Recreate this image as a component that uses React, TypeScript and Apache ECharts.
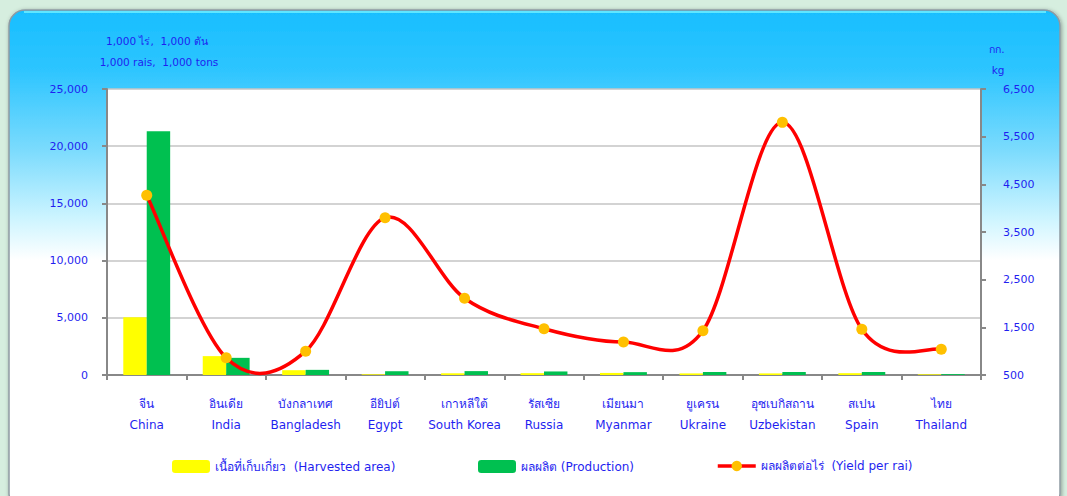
import React, { useEffect, useRef } from "react";
import * as echarts from "echarts";

const thaiNames = ["จีน", "อินเดีย", "บังกลาเทศ", "อียิปต์", "เกาหลีใต้", "รัสเซีย", "เมียนมา", "ยูเครน", "อุซเบกิสถาน", "สเปน", "ไทย"];
const engNames = ["China", "India", "Bangladesh", "Egypt", "South Korea", "Russia", "Myanmar", "Ukraine", "Uzbekistan", "Spain", "Thailand"];
const harvestedArea = [5050, 1650, 420, 60, 150, 160, 180, 140, 140, 160, 60];
const production = [21300, 1500, 450, 330, 340, 310, 250, 260, 260, 260, 75];
const yieldPerRai = [4270, 860, 1000, 3800, 2110, 1470, 1190, 1430, 5800, 1460, 1040];

const seriesNames = [
  "เนื้อที่เก็บเกี่ยว  (Harvested area)",
  "ผลผลิต (Production)",
  "ผลผลิตต่อไร่  (Yield per rai)",
];
const leftTicks = { min: 0, max: 25000, interval: 5000 };
const rightTicks = { min: 500, max: 6500, interval: 1000 };

const FONT = "'DejaVu Sans', sans-serif";
const BLUE = "#1F1FF0";
const RED = "#FF0000";
const ORANGE = "#FFC000";

export default function App() {
  const ref = useRef<HTMLDivElement>(null);
  useEffect(() => {
    if (!ref.current) return;
    const chart = echarts.init(ref.current, null, { renderer: "svg" });
    const categories = thaiNames.map((t, i) => t + "\n" + engNames[i]);
    const fmt = (v: number) => v.toLocaleString("en-US");

    // Excel-like smoothed curve (Catmull-Rom as cubic Bezier) through the data points,
    // positioned with the chart's own scales via api.coord.
    const renderCurve = (params: any, api: any) => {
      if (params.dataIndex !== 0) return null;
      const pts = yieldPerRai.map((v, i) => api.coord([i, v]));
      const n = pts.length;
      let d = `M ${pts[0][0]} ${pts[0][1]}`;
      for (let i = 0; i < n - 1; i++) {
        const p0 = pts[Math.max(0, i - 1)];
        const p1 = pts[i];
        const p2 = pts[i + 1];
        const p3 = pts[Math.min(n - 1, i + 2)];
        const c1x = p1[0] + (p2[0] - p0[0]) / 6;
        const c1y = p1[1] + (p2[1] - p0[1]) / 6;
        const c2x = p2[0] - (p3[0] - p1[0]) / 6;
        const c2y = p2[1] - (p3[1] - p1[1]) / 6;
        d += ` C ${c1x} ${c1y} ${c2x} ${c2y} ${p2[0]} ${p2[1]}`;
      }
      return {
        type: "path",
        shape: { pathData: d },
        style: { stroke: RED, lineWidth: 3.5, fill: "none" },
      };
    };

    chart.setOption({
      animation: false,
      backgroundColor: "#D6EEDF",
      textStyle: { fontFamily: FONT },
      graphic: [
        {
          type: "rect",
          z: -10,
          shape: { x: 9, y: 10, width: 1051, height: 500, r: 16 },
          style: {
            fill: {
              type: "linear", x: 0, y: 0, x2: 0, y2: 1,
              colorStops: [
                { offset: 0, color: "#18BEFF" },
                { offset: 0.12, color: "#2DC5FF" },
                { offset: 0.28, color: "#7BDBFD" },
                { offset: 0.42, color: "#CFF5FF" },
                { offset: 0.5, color: "#FFFFFF" },
                { offset: 1, color: "#FFFFFF" },
              ],
            },
            stroke: "#8E9AA3",
            lineWidth: 1.5,
            shadowBlur: 4,
            shadowColor: "rgba(0,0,0,0.35)",
            shadowOffsetX: 1,
            shadowOffsetY: 1,
          },
        },
        {
          type: "line",
          z: -9,
          shape: { x1: 24, y1: 12, x2: 1046, y2: 12 },
          style: { stroke: "#5FE6FF", lineWidth: 2 },
        },
        {
          type: "text",
          x: 157, y: 41,
          style: { text: "1,000 ไร่,  1,000 ตัน", fill: BLUE, font: "500 10.5px " + FONT, textAlign: "center", textVerticalAlign: "middle" },
        },
        {
          type: "text",
          x: 159, y: 62,
          style: { text: "1,000 rais,  1,000 tons", fill: BLUE, font: "500 10.5px " + FONT, textAlign: "center", textVerticalAlign: "middle" },
        },
        {
          type: "text",
          x: 997, y: 49,
          style: { text: "กก.", fill: BLUE, font: "10.5px " + FONT, textAlign: "center", textVerticalAlign: "middle" },
        },
        {
          type: "text",
          x: 998, y: 70,
          style: { text: "kg", fill: BLUE, font: "10.5px " + FONT, textAlign: "center", textVerticalAlign: "middle" },
        },
      ],
      grid: {
        left: 107, right: 86, top: 89, bottom: 121,
        show: true, backgroundColor: "#FFFFFF", borderWidth: 0,
      },
      legend: [
        { data: [seriesNames[0]], left: 172, top: 460 },
        { data: [seriesNames[1]], left: 478, top: 460 },
        {
          data: [
            {
              name: seriesNames[2],
              lineStyle: { color: RED, width: 3.5, opacity: 1 },
              itemStyle: { color: ORANGE },
            },
          ],
          left: 716,
          top: 460,
        },
      ].map((l) => ({
        ...l,
        padding: 0,
        itemWidth: 38,
        itemHeight: 13,
        itemGap: 4,
        textStyle: { color: BLUE, fontSize: 12, fontFamily: FONT },
      })),
      xAxis: {
        type: "category",
        data: categories,
        boundaryGap: true,
        axisLine: { lineStyle: { color: "#888888", width: 2 } },
        axisTick: { show: true, length: 5, lineStyle: { color: "#888888", width: 2 } },
        axisLabel: {
          color: BLUE, fontSize: 12, lineHeight: 21, margin: 18, interval: 0,
          fontFamily: FONT,
        },
      },
      yAxis: [
        {
          type: "value",
          ...leftTicks,
          axisLine: { show: true, lineStyle: { color: "#888888", width: 2 } },
          axisTick: { show: true, length: 5, lineStyle: { color: "#888888", width: 2 } },
          splitLine: { show: true, lineStyle: { color: "#C4C4C4", width: 1.5 } },
          axisLabel: { color: BLUE, fontSize: 11, margin: 19, formatter: fmt, fontFamily: FONT },
        },
        {
          type: "value",
          position: "right",
          ...rightTicks,
          axisLine: { show: true, lineStyle: { color: "#888888", width: 2 } },
          axisTick: { show: true, length: 5, lineStyle: { color: "#888888", width: 2 } },
          splitLine: { show: false },
          axisLabel: { color: BLUE, fontSize: 11, margin: 22, formatter: fmt, fontFamily: FONT },
        },
      ],
      series: [
        {
          name: seriesNames[0],
          type: "bar",
          data: harvestedArea,
          barGap: "0%",
          barCategoryGap: "41%",
          itemStyle: { color: "#FFFF00" },
        },
        {
          name: seriesNames[1],
          type: "bar",
          data: production,
          barGap: "0%",
          barCategoryGap: "41%",
          itemStyle: { color: "#00C050" },
        },
        {
          name: "curve",
          type: "custom",
          yAxisIndex: 1,
          data: yieldPerRai,
          renderItem: renderCurve,
          clip: false,
          z: 4,
          silent: true,
        },
        {
          name: seriesNames[2],
          type: "line",
          yAxisIndex: 1,
          data: yieldPerRai,
          symbol: "circle",
          symbolSize: 11,
          z: 5,
          lineStyle: { color: RED, width: 3.5, opacity: 0 },
          itemStyle: { color: ORANGE },
        },
      ],
    });
    return () => chart.dispose();
  }, []);
  return (
    <div
      ref={ref}
      style={{ position: "fixed", left: 0, top: 0, width: 1067, height: 496 }}
    />
  );
}
